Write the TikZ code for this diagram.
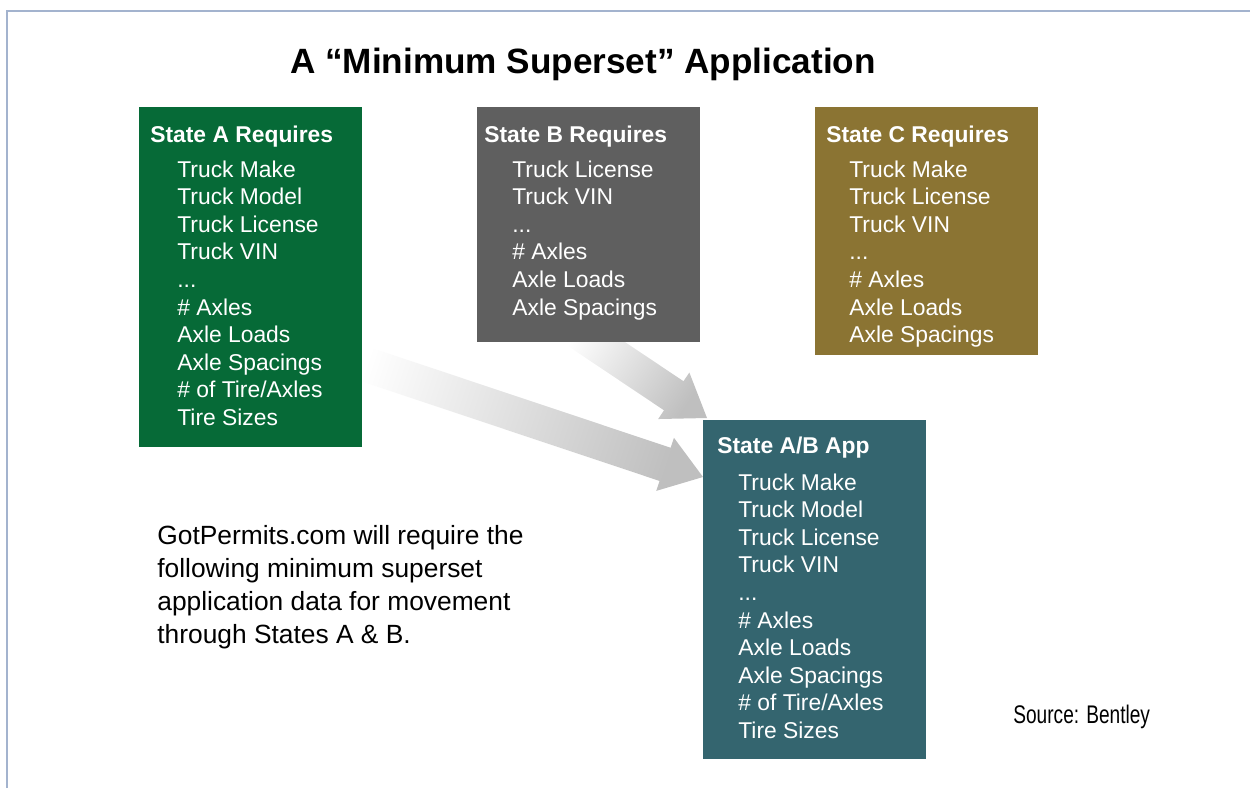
\documentclass[tikz,border=0pt]{standalone}
\usepackage{fontspec}
\setmainfont{Liberation Sans}
\newfontfamily\narrowfont[FakeStretch=0.75]{Liberation Sans}
\usetikzlibrary{calc,backgrounds}

\definecolor{stateAgreen}{RGB}{6,106,55}
\definecolor{stateBgray}{RGB}{95,95,95}
\definecolor{stateColive}{RGB}{139,116,51}
\definecolor{appteal}{RGB}{52,101,111}
\definecolor{slideframe}{RGB}{163,179,206}

\tikzset{
  box/.style={anchor=north west, inner sep=0, minimum width=4.45cm, fill=#1},
  head/.style={anchor=base west, inner sep=0, text=white, font=\fontsize{13}{15}\selectfont\bfseries},
  item/.style={anchor=base west, inner sep=0, text=white, font=\fontsize{13}{15}\selectfont},
}

% "..." cannot stand alone in a \foreach list
\newcommand{\moredots}{...}

% wide shaded arrow: tail, tip, shading angle
\newcommand{\fatarrow}[3]{%
  \coordinate (fa-base) at ($(#2)!0.8cm!(#1)$);
  \shade[left color=white, right color=gray!50, shading angle=#3]
    ($(#1)!0.35cm!90:(#2)$) -- ($(fa-base)!0.35cm!90:(#2)$) -- ($(fa-base)!0.56cm!90:(#2)$)
    -- (#2) -- ($(fa-base)!0.56cm!-90:(#2)$) -- ($(fa-base)!0.35cm!-90:(#2)$)
    -- ($(#1)!0.35cm!-90:(#2)$) -- cycle;
}

\begin{document}
\begin{tikzpicture}[x=0.02cm, y=-0.02cm]
  \useasboundingbox (0,0) rectangle (1250,788);
  \draw[slideframe, line width=1.1pt] (7,788) -- (7,11) -- (1250,11);

  \node[anchor=base, inner sep=0, font=\fontsize{20}{24}\selectfont\bfseries] (title) at (583,73)
    {A “Minimum Superset” Application};

  % State A
  \begin{scope}[shift={(139,107)}]
    \node[box=stateAgreen, minimum height=6.8cm] (stateA) at (0,0) {};
    \node[head] (a-head) at (11,35) {State A Requires};
    \foreach \t [count=\i] in {Truck Make, Truck Model, Truck License, Truck VIN, \moredots,
        \# Axles, Axle Loads, Axle Spacings, \# of Tire/Axles, Tire Sizes}
      \node[item] (a-\i) at (38,{70+27.6*(\i-1)}) {\t};
  \end{scope}

  % State B
  \begin{scope}[shift={(477,107)}]
    \node[box=stateBgray, minimum height=4.7cm] (stateB) at (0,0) {};
    \node[head] (b-head) at (7,35) {State B Requires};
    \foreach \t [count=\i] in {Truck License, Truck VIN, \moredots,
        \# Axles, Axle Loads, Axle Spacings}
      \node[item] (b-\i) at (35,{70+27.6*(\i-1)}) {\t};
  \end{scope}

  % State C
  \begin{scope}[shift={(815,107)}]
    \node[box=stateColive, minimum height=4.96cm] (stateC) at (0,0) {};
    \node[head] (c-head) at (11,35) {State C Requires};
    \foreach \t [count=\i] in {Truck Make, Truck License, Truck VIN, \moredots,
        \# Axles, Axle Loads, Axle Spacings}
      \node[item] (c-\i) at (34,{70+27.6*(\i-1)}) {\t};
  \end{scope}

  % combined application
  \begin{scope}[shift={(703,420)}]
    \node[box=appteal, minimum height=6.78cm] (stateAB) at (0,0) {};
    \node[head] (ab-head) at (14,33) {State A/B App};
    \foreach \t [count=\i] in {Truck Make, Truck Model, Truck License, Truck VIN, \moredots,
        \# Axles, Axle Loads, Axle Spacings, \# of Tire/Axles, Tire Sizes}
      \node[item] (ab-\i) at (35,{70+27.6*(\i-1)}) {\t};
  \end{scope}

  \begin{scope}[on background layer]
    \coordinate (a-tail) at ($(stateA.north east)+(-27.5,247)$);
    \coordinate (a-tip) at ($(stateAB.north west)+(0,57)$);
    \fatarrow{a-tail}{a-tip}{71.6}
    \coordinate (b-tail) at ($(stateB.south west)+(92,-17)$);
    \coordinate (b-tip) at ($(stateAB.north west)+(4,-2)$);
    \fatarrow{b-tail}{b-tip}{56.4}
  \end{scope}

  \node[anchor=north west, align=left, inner sep=0, font=\fontsize{15}{18.8}\selectfont] (note) at (157,525)
    {GotPermits.com will require the\\following minimum superset\\application data for movement\\through States A \& B.};

  \node[anchor=base west, inner sep=0, font=\narrowfont\fontsize{14.5}{17}\selectfont] (source) at (1013,723)
    {Source: Bentley};
\end{tikzpicture}
\end{document}
